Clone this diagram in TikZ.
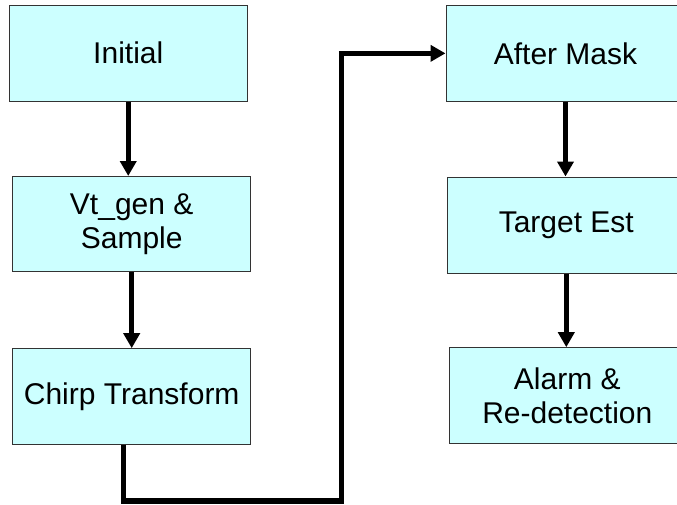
\documentclass[tikz,border=0pt]{standalone}
\usepackage{fontspec}
\setmainfont{Liberation Sans}
\usetikzlibrary{arrows.meta}
\definecolor{boxfill}{HTML}{CCFFFF}
\definecolor{boxline}{HTML}{333333}
\begin{document}
\begin{tikzpicture}[x=1pt,y=-1pt,
  procbox/.style={draw=boxline,line width=1pt,fill=boxfill,rectangle,inner sep=0pt,
    align=center,font=\fontsize{30}{34}\selectfont},
  flow/.style={line width=5.5pt,-{Triangle[width=16pt,length=15pt]}},
  link/.style={line width=5.5pt}]
\useasboundingbox (0,0) rectangle (677,504);
% left column
\node[procbox,minimum width=237.5pt,minimum height=95.5pt] (init) at (128.25,53.25) {Initial};
\node[procbox,minimum width=238pt,minimum height=95pt] (vt) at (131.7,224) {Vt\_gen \&\\Sample};
\node[procbox,minimum width=238pt,minimum height=95.3pt] (chirp) at (131.7,396.35) {Chirp Transform};
% right column (runs past the right edge)
\node[procbox,minimum width=239pt,minimum height=95.3pt] (mask) at (565.5,53.35) {After Mask};
\node[procbox,minimum width=238pt,minimum height=96pt] (target) at (566.3,225) {Target Est};
\node[procbox,minimum width=236pt,minimum height=95.6pt] (alarm) at (567.3,395.5) {Alarm \&\\Re-detection};
% arrows
\draw[flow] (init.south) -- (init.south |- vt.north);
\draw[flow] (vt.south) -- (vt.south |- chirp.north);
\draw[flow] (mask.south) -- (mask.south |- target.north);
\draw[flow] (target.south) -- (target.south |- alarm.north);
% return path from the chirp stage to the mask stage
\coordinate (c1) at (123.3,501);
\coordinate (c2) at (341.7,501);
\draw[link] (chirp.south -| c1) -- (c1) -- (c2) -- (c2 |- mask.west);
\draw[flow] ([xshift=-2.75pt]c2 |- mask.west) -- (mask.west);
\end{tikzpicture}
\end{document}
